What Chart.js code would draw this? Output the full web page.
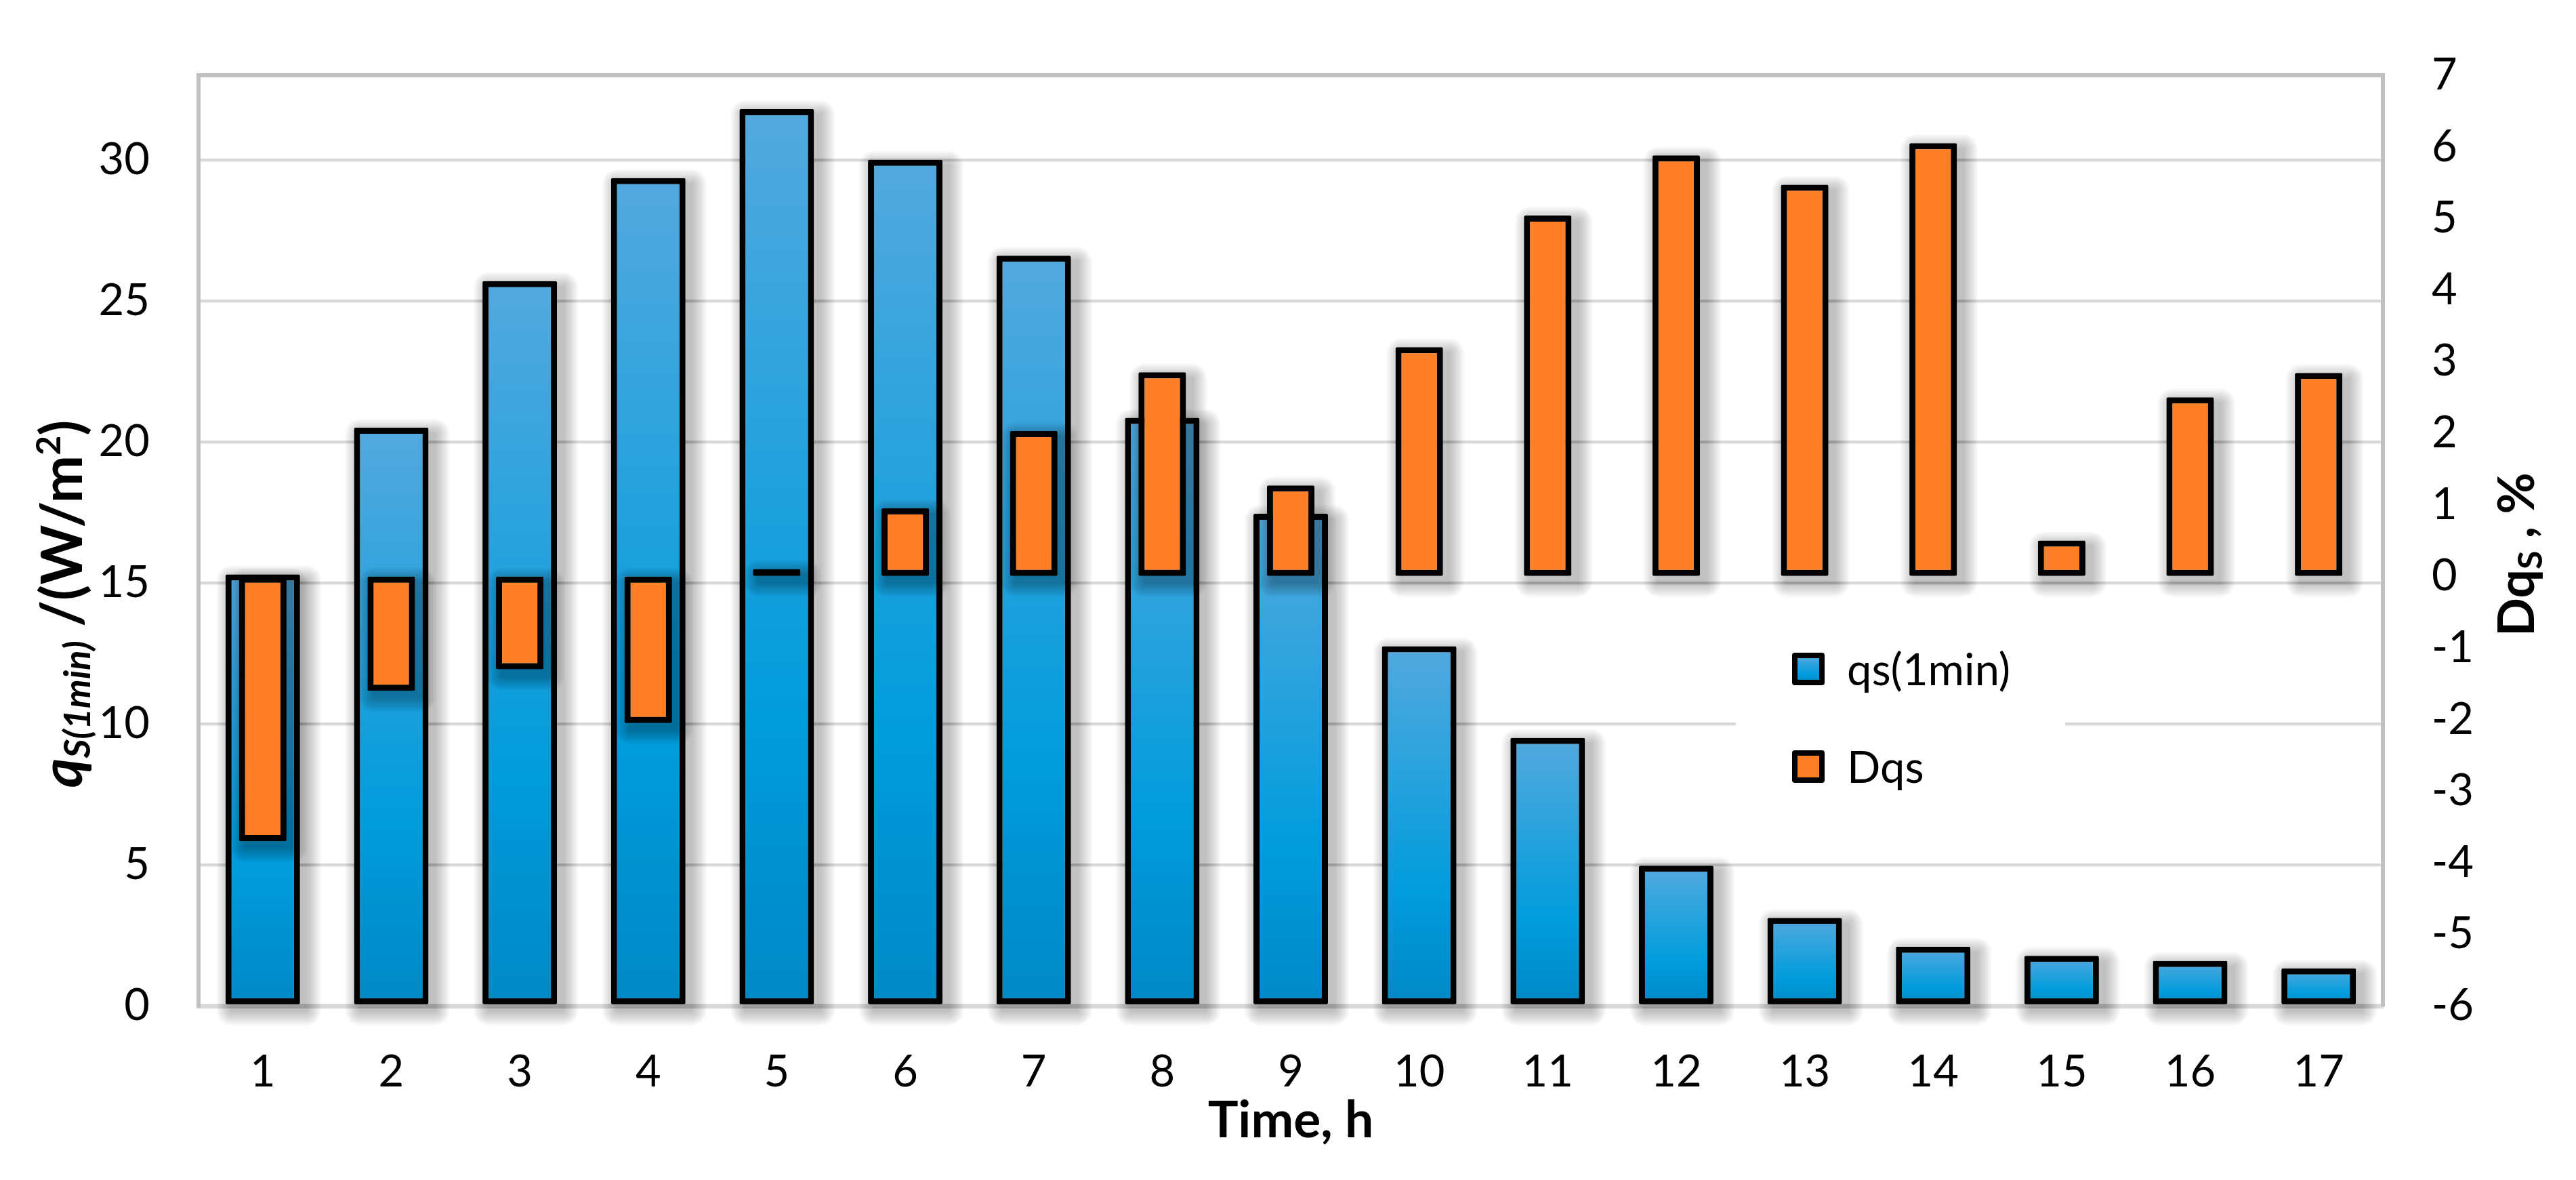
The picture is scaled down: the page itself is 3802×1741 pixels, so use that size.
<!DOCTYPE html>
<html>
<head>
<meta charset="utf-8">
<script src="https://cdn.jsdelivr.net/npm/chart.js@4.4.0/dist/chart.umd.min.js"></script>
<style>
html,body{margin:0;padding:0;background:#fff;}
#wrap{width:3802px;height:1741px;position:relative;}
</style>
</head>
<body>
<div id="wrap"><canvas id="c" width="3802" height="1741"></canvas></div>
<script>
// ---- data ----
const categories = ['1','2','3','4','5','6','7','8','9','10','11','12','13','14','15','16','17'];
const qsValues  = [15.3, 20.5, 25.7, 29.35, 31.8, 30.0, 26.6, 20.85, 17.45, 12.75, 9.5, 4.97, 3.12, 2.1, 1.77, 1.59, 1.33];
const dqsValues = [-3.7, -1.6, -1.3, -2.05, 0.1, 0.95, 2.03, 2.85, 1.27, 3.2, 5.04, 5.88, 5.47, 6.05, 0.5, 2.5, 2.84];
const leftTicks  = [0, 5, 10, 15, 20, 25, 30];
const rightTicks = [-6, -5, -4, -3, -2, -1, 0, 1, 2, 3, 4, 5, 6, 7];
const seriesLabels = ['qs(1min)', 'Dqs'];
const xTitle = 'Time, h';

// ---- styles ----
const FONT = 'Lato';
const BLUE_STOPS = [[0, '#53a9de'], [0.68, '#009cdc'], [1, '#0088c6']];
const ORANGE = '#ff7f27';

function blueGradient(ctx, top, bottom) {
  const g = ctx.createLinearGradient(0, top, 0, bottom);
  BLUE_STOPS.forEach(s => g.addColorStop(s[0], s[1]));
  return g;
}

// soft drop shadow built from stacked translucent rectangles
const shadowPlugin = {
  id: 'barShadow',
  beforeDatasetDraw(chart, args) {
    const ctx = chart.ctx;
    const N = 11, step = 2, dx = 9, dy = 9;
    ctx.save();
    ctx.fillStyle = 'rgba(0,0,0,0.028)';
    args.meta.data.forEach(el => {
      const p = el.getProps(['x', 'y', 'base', 'width'], true);
      const top = Math.min(p.y, p.base);
      const h = Math.max(Math.abs(p.base - p.y), 10);
      const left = p.x - p.width / 2;
      for (let k = N; k >= 1; k--) {
        const e = k * step;
        ctx.beginPath();
        ctx.roundRect(left + dx - e, top + dy - e, p.width + 2 * e, h + 2 * e, e);
        ctx.fill();
      }
    });
    ctx.restore();
  }
};

const framePlugin = {
  id: 'frame',
  afterDatasetsDraw(chart) {
    const {ctx, chartArea: a} = chart;
    ctx.save();
    ctx.strokeStyle = '#c0c0c0';
    ctx.lineWidth = 6;
    ctx.beginPath();
    ctx.moveTo(a.left - 3, a.top);
    ctx.lineTo(a.right + 3, a.top);
    ctx.stroke();
    ctx.restore();
  }
};

function drawRich(ctx, parts, baselineX, centerY) {
  let total = 0;
  parts.forEach(p => { ctx.font = p.font; p.w = ctx.measureText(p.t).width; total += p.w; });
  ctx.save();
  ctx.translate(baselineX, centerY + total / 2);
  ctx.rotate(-Math.PI / 2);
  ctx.fillStyle = '#000';
  ctx.textBaseline = 'alphabetic';
  ctx.textAlign = 'left';
  let x = 0;
  parts.forEach(p => { ctx.font = p.font; ctx.fillText(p.t, x, p.dy || 0); x += p.w; });
  ctx.restore();
}

const titlesPlugin = {
  id: 'axisTitles',
  afterDraw(chart) {
    const ctx = chart.ctx;
    drawRich(ctx, [
      {t: 'q', font: `italic bold 84px ${FONT}`},
      {t: 'S(1min)', font: `italic bold 54px ${FONT}`, dy: 12},
      {t: ' /(W/m', font: `bold 84px ${FONT}`},
      {t: '2', font: `bold 50px ${FONT}`, dy: -32},
      {t: ')', font: `bold 84px ${FONT}`}
    ], 121, 891);
    drawRich(ctx, [
      {t: 'Dq', font: `bold 75px ${FONT}`},
      {t: 'S', font: `bold 50px ${FONT}`, dy: 12},
      {t: ' , %', font: `bold 75px ${FONT}`}
    ], 3740, 818);
  }
};

const legendPlugin = {
  id: 'customLegend',
  afterDraw(chart) {
    const ctx = chart.ctx;
    ctx.save();
    ctx.fillStyle = '#fff';
    ctx.fillRect(2562, 900, 486, 320);
    const rows = [
      {label: seriesLabels[0], cy: 987, fill: blueGradient(ctx, 967, 1007)},
      {label: seriesLabels[1], cy: 1131, fill: ORANGE}
    ];
    rows.forEach(r => {
      const bx = 2645, bs = 48, by = r.cy - bs / 2;
      ctx.fillStyle = '#000';
      ctx.beginPath();
      ctx.roundRect(bx, by, bs, bs, 4);
      ctx.fill();
      ctx.fillStyle = r.fill;
      ctx.fillRect(bx + 8, by + 8, bs - 16, bs - 16);
      ctx.fillStyle = '#000';
      ctx.font = `65px ${FONT}`;
      ctx.textBaseline = 'middle';
      ctx.textAlign = 'left';
      ctx.fillText(r.label, 2726, r.cy + 3);
    });
    ctx.restore();
  }
};

const ctx = document.getElementById('c').getContext('2d');
new Chart(ctx, {
  type: 'bar',
  data: {
    labels: categories,
    datasets: [
      {
        label: seriesLabels[0],
        data: qsValues,
        yAxisID: 'y',
        grouped: false,
        order: 2,
        categoryPercentage: 1,
        barPercentage: 0.58,
        borderColor: '#000',
        borderWidth: 9,
        borderSkipped: false,
        borderRadius: 2,
        backgroundColor: (c) => {
          const chart = c.chart;
          if (!chart.chartArea || c.type !== 'data') return '#1aa0dc';
          const ys = chart.scales.y;
          return blueGradient(chart.ctx, ys.getPixelForValue(c.raw), ys.getPixelForValue(0));
        }
      },
      {
        label: seriesLabels[1],
        data: dqsValues,
        yAxisID: 'y1',
        grouped: false,
        order: 1,
        categoryPercentage: 1,
        barPercentage: 0.37,
        borderColor: '#000',
        borderWidth: 9,
        borderSkipped: false,
        borderRadius: 2,
        backgroundColor: ORANGE
      }
    ]
  },
  options: {
    responsive: false,
    devicePixelRatio: 1,
    animation: false,
    layout: {padding: {top: 70, left: 0, right: 0, bottom: 0}},
    plugins: {legend: {display: false}, tooltip: {enabled: false}},
    scales: {
      x: {
        grid: {display: false, drawTicks: false},
        border: {display: true, color: '#d9d9d9', width: 7},
        ticks: {color: '#000', font: {family: FONT, size: 65}, padding: 59, maxRotation: 0},
        title: {display: true, text: xTitle, color: '#000', font: {family: FONT, size: 75, weight: 'bold'}, padding: {top: 0, bottom: 42}},
        afterFit: s => { s.height = 257; }
      },
      y: {
        position: 'left',
        min: 0, max: 33,
        afterBuildTicks: s => { s.ticks = leftTicks.map(v => ({value: v})); },
        grid: {color: '#d9d9d9', lineWidth: 4.5, drawTicks: false},
        border: {display: true, color: '#c0c0c0', width: 6},
        ticks: {color: '#000', font: {family: FONT, size: 65}, padding: 72},
        afterFit: s => { s.width = 293; }
      },
      y1: {
        position: 'right',
        min: -6, max: 7,
        afterBuildTicks: s => { s.ticks = rightTicks.map(v => ({value: v})); },
        grid: {drawOnChartArea: false, drawTicks: false},
        border: {display: true, color: '#c0c0c0', width: 6},
        ticks: {color: '#000', font: {family: FONT, size: 65}, padding: 72},
        afterFit: s => { s.width = 285; }
      }
    }
  },
  plugins: [shadowPlugin, framePlugin, titlesPlugin, legendPlugin]
});
</script>
</body>
</html>
